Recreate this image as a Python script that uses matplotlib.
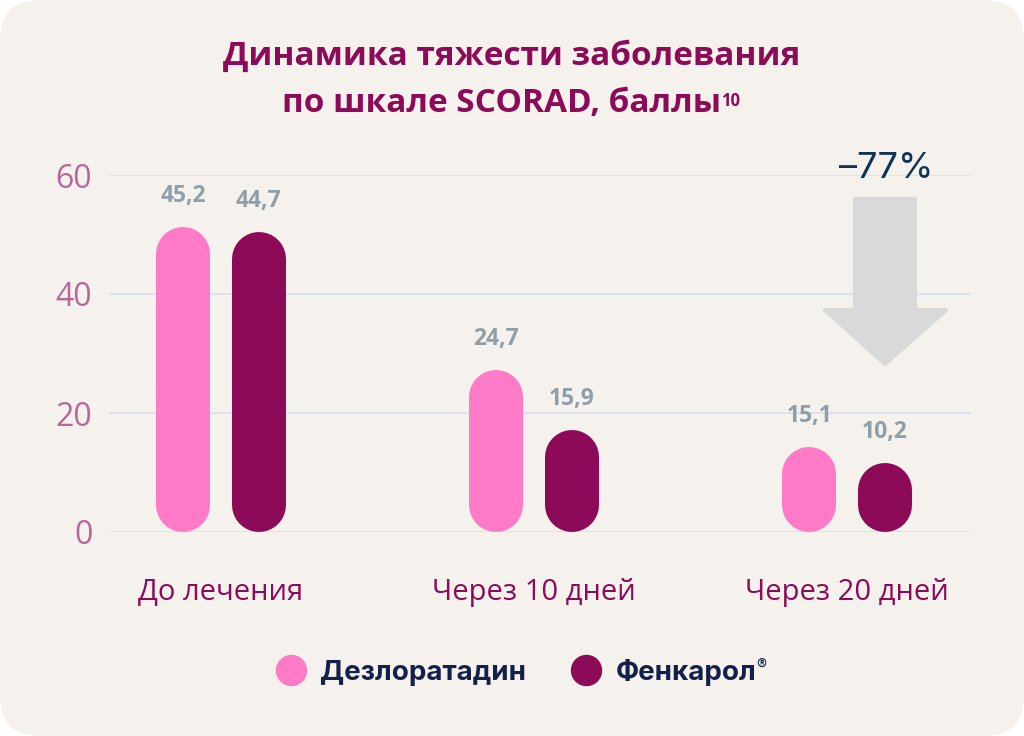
import matplotlib.pyplot as plt
from matplotlib.lines import Line2D
from matplotlib.patches import FancyBboxPatch, Polygon

groups = ["До лечения", "Через 10 дней", "Через 20 дней"]
series = ["Дезлоратадин", "Фенкарол"]
desloratadine = [45.2, 24.7, 15.1]
fenkarol = [44.7, 15.9, 10.2]
# bar heights as drawn in the source picture (not to scale with the labels)
desloratadine_drawn = [51.3, 27.2, 14.3]
fenkarol_drawn = [50.4, 17.1, 11.6]
y_ticks = [0, 20, 40, 60]
change_label = "–77%"

W, H = 1024, 736
BG = "#f5f2ed"
PINK = "#ff7bc8"
PLUM = "#8c0a57"
GREY = "#8e9fa9"
NAVY = "#13204a"


def px(x, y):
    return x / W, 1 - y / H


plt.rcParams["font.family"] = ["Open Sans", "DejaVu Sans"]

fig = plt.figure(figsize=(W / 100, H / 100), dpi=100, facecolor="white")
fig.patches.append(FancyBboxPatch((0, 0), 1, 1, boxstyle=f"round,pad=0,rounding_size={40 / W}",
                                  mutation_aspect=W / H, transform=fig.transFigure,
                                  facecolor=BG, edgecolor="none", zorder=-10))

ax = fig.add_axes([109 / W, (H - 532) / H, (971 - 109) / W, 357 / H])
ax.patch.set_visible(False)
ax.set_xlim(-0.358, 2.396)
ax.set_ylim(0, 60)
for s in ax.spines.values():
    s.set_visible(False)
ax.set_yticks(y_ticks)
ax.grid(axis="y", color="#dde1ef", lw=1.3)
ax.set_axisbelow(True)
ax.tick_params(axis="y", length=0, pad=12, labelsize=23, labelcolor="#b8679b")
ax.set_xticks(range(len(groups)))
ax.set_xticklabels(groups)
ax.tick_params(axis="x", length=0, pad=33, labelsize=21, labelcolor=PLUM)

# pill-shaped bars: thick lines with round caps, radius = half the bar width
bar_px = 54
y_per_px = (ax.get_ylim()[1] - ax.get_ylim()[0]) / (ax.get_position().height * H)
r = bar_px / 2 * y_per_px
offset = 0.12
for i in range(len(groups)):
    for dx, h, val, color in [(-offset, desloratadine_drawn[i], desloratadine[i], PINK),
                              (offset, fenkarol_drawn[i], fenkarol[i], PLUM)]:
        xc = i + dx
        ax.plot([xc, xc], [r, h - r], color=color, lw=bar_px * 0.72,
                solid_capstyle="round", clip_on=False, zorder=3)
        ax.annotate(f"{val:.1f}".replace(".", ","), (xc, h), xytext=(0, 31),
                    textcoords="offset pixels", ha="center", va="center",
                    fontsize=16.5, fontweight="bold", color=GREY)

# title
fig.text(*px(512, 56), "Динамика тяжести заболевания", ha="center", va="center",
         fontsize=24, fontweight="bold", color=PLUM)
t2 = fig.text(*px(502, 104), "по шкале SCORAD, баллы", ha="center", va="center",
              fontsize=24, fontweight="bold", color=PLUM)

# arrow
arrow_pts = [(855, 199), (915, 199), (915, 310), (946, 310), (885, 364),
             (825, 310), (855, 310)]
fig.patches.append(Polygon([px(x, y) for x, y in arrow_pts], closed=True,
                           transform=fig.transFigure, facecolor="#d9d9d9",
                           edgecolor="#d9d9d9", lw=3, joinstyle="round"))
fig.text(*px(886, 168), change_label, ha="center", va="center", fontsize=26,
         color="#0f3352", family=["Inter", "DejaVu Sans"])

handles = [Line2D([], [], ls="none", marker="o", markersize=21.6, color=c) for c in (PINK, PLUM)]
leg = fig.legend(handles, series, loc="center", bbox_to_anchor=px(516, 672), ncol=2,
                 frameon=False, handlelength=1.1, handletextpad=0.5, columnspacing=1.6,
                 prop={"family": ["Inter", "DejaVu Sans"], "weight": "bold", "size": 20})
for t in leg.get_texts():
    t.set_color(NAVY)

fig.canvas.draw()
rend = fig.canvas.get_renderer()
e = t2.get_window_extent(rend)
fig.text(e.x1 / W - 1 / W, (e.y1 - 5) / H, "10", ha="left", va="top", fontsize=12,
         fontweight="bold", color=PLUM)
e = leg.get_texts()[1].get_window_extent(rend)
fig.text(e.x1 / W, (e.y1 + 1) / H, "®", ha="left", va="top", fontsize=11,
         color=NAVY, family=["Inter", "DejaVu Sans"])

fig.savefig("out.png", dpi=100, facecolor="white")
